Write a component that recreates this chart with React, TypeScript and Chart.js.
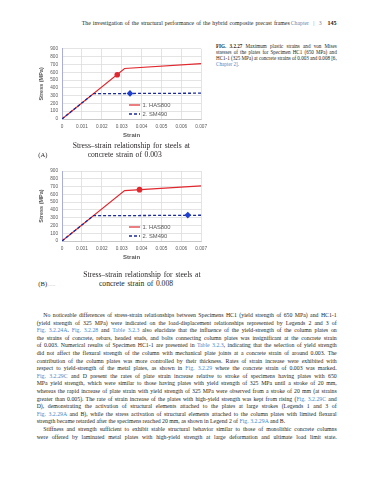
import React, { useEffect, useLayoutEffect, useRef } from "react";
import { Chart, registerables } from "chart.js";
Chart.register(...registerables);

// ---------- data ----------
const xTickLabels = ["0", "0.001", "0.002", "0.003", "0.004", "0.005", "0.006", "0.007"];
const yTickLabels = ["0", "100", "200", "300", "400", "500", "600", "700", "800", "900"];
const seriesNames = ["1. HAS800", "2. SM490"];
const has800Strain = [0, 0.00315, 0.007];
const has800Stress = [0, 648, 710];
const sm490Strain = [0, 0.00158, 0.007];
const sm490Stress = [0, 325, 331];
const markerAStrain = [0.00278, 0.00342];
const markerAStress = [568, 328];
const markerBStrain = [0.0039, 0.00633];
const markerBStress = [660, 333];

const RED = "#e0282e";
const BLUE = "#1a2a9c";
const BLUE_MARK = "#1f3fd0";
const TXT = "#595959";
const LINK = "#4a86c5";
const SERIF = "'Liberation Serif', 'Times New Roman', serif";
const SANS = "'Liberation Sans', Arial, sans-serif";

const bodyLines = [
  "No noticeable differences of stress-strain relationships between Specimens HC1 (yield strength of 650 MPa) and HC1-1",
  "(yield strength of 325 MPa) were indicated on the load-displacement relationships represented by Legends 2 and 3 of",
  "{Fig. 3.2.24A}. {Fig. 3.2.28} and {Table 3.2.3} also elucidate that the influence of the yield-strength of the column plates on",
  "the strains of concrete, rebars, headed studs, and bolts connecting column plates was insignificant at the concrete strain",
  "of 0.003. Numerical results of Specimen HC1-1 are presented in {Table 3.2.3}, indicating that the selection of yield strength",
  "did not affect the flexural strength of the column with mechanical plate joints at a concrete strain of around 0.003. The",
  "contribution of the column plates was more controlled by their thickness. Rates of strain increase were exhibited with",
  "respect to yield-strength of the metal plates, as shown in {Fig. 3.2.29} where the concrete strain of 0.003 was marked.",
  "{Fig. 3.2.29C} and D present the rates of plate strain increase relative to stroke of specimens having plates with 650",
  "MPa yield strength, which were similar to those having plates with yield strength of 325 MPa until a stroke of 20 mm,",
  "whereas the rapid increase of plate strain with yield strength of 325 MPa were observed from a stroke of 20 mm (at strains",
  "greater than 0.005). The rate of strain increase of the plates with high-yield strength was kept from rising ({Fig. 3.2.29C} and",
  "D), demonstrating the activation of structural elements attached to the plates at large strokes (Legends 1 and 3 of",
  "{Fig. 3.2.29A} and B), while the stress activation of structural elements attached to the column plates with limited flexural",
  "strength became retarded after the specimens reached 20 mm, as shown in Legend 2 of {Fig. 3.2.29A} and B.",
  "Stiffness and strength sufficient to exhibit stable structural behavior similar to those of monolithic concrete columns",
  "were offered by laminated metal plates with high-yield strength at large deformation and ultimate load limit state.",
];
const indentLines = [0, 15];
const raggedLines = [14];

const figCaption = [
  "[FIG. 3.2.27] Maximum plastic strains and von Mises",
  "stresses of the plates for Specimen HC1 (650 MPa) and",
  "HC1-1 (325 MPa) at concrete strains of 0.003 and 0.008 [6,",
  "{Chapter 2].}",
];

function renderMarkup(s: string) {
  const parts: any[] = [];
  const re = /\{([^}]*)\}|\[([^\]]*)\](?=\s)/g;
  let last = 0;
  let m: RegExpExecArray | null;
  let k = 0;
  while ((m = re.exec(s))) {
    if (m.index > last) parts.push(s.slice(last, m.index));
    if (m[1] !== undefined) parts.push(<span key={k++} style={{ color: LINK }}>{m[1]}</span>);
    else parts.push(<b key={k++}>{m[2]}</b>);
    last = m.index + m[0].length;
  }
  if (last < s.length) parts.push(s.slice(last));
  return parts;
}

function FitLine(props: {
  x: number; y: number; w?: number; size: number; font?: string; color?: string;
  bold?: boolean; children: any;
}) {
  const { x, y, w, size, font = SERIF, color = "#231f20", bold, children } = props;
  const ref = useRef<HTMLSpanElement>(null);
  useLayoutEffect(() => {
    const el = ref.current;
    if (!el || !w) return;
    el.style.wordSpacing = "0px";
    const natural = el.getBoundingClientRect().width;
    const spaces = ((el.textContent || "").match(/ /g) || []).length;
    if (spaces > 0) el.style.wordSpacing = `${(w - natural) / spaces}px`;
  }, [w]);
  return (
    <span
      ref={ref}
      style={{
        position: "absolute", left: x, top: y - size * 0.7, fontSize: size,
        lineHeight: `${size * 1.2}px`, whiteSpace: "pre", fontFamily: font, color,
        fontWeight: bold ? 700 : 400,
      }}
    >
      {children}
    </span>
  );
}

function StressChart(props: { top: number; padTop: number; mStrain: number[]; mStress: number[] }) {
  const { top, padTop, mStrain, mStress } = props;
  const ref = useRef<HTMLCanvasElement>(null);
  useEffect(() => {
    const pts = (xs: number[], ys: number[]) => xs.map((x, i) => ({ x, y: ys[i] }));
    const legendPlugin = {
      id: "insideLegend",
      afterDatasetsDraw(chart: any) {
        const { ctx, chartArea } = chart;
        const x0 = chartArea.left + 67;
        const rows = [chartArea.bottom - 14, chartArea.bottom - 5];
        ctx.save();
        rows.forEach((y: number, i: number) => {
          ctx.beginPath();
          ctx.strokeStyle = i === 0 ? RED : BLUE;
          ctx.lineWidth = i === 0 ? 1.2 : 1.3;
          ctx.setLineDash(i === 0 ? [] : [3, 2]);
          ctx.moveTo(x0, y);
          ctx.lineTo(x0 + 11, y);
          ctx.stroke();
          ctx.setLineDash([]);
          ctx.fillStyle = TXT;
          ctx.font = `5.8px ${SANS}`;
          ctx.textBaseline = "middle";
          ctx.textAlign = "left";
          ctx.fillText(seriesNames[i], x0 + 13.5, y);
        });
        ctx.restore();
      },
    };
    const tickFont = { size: 4.7, family: SANS };
    const chart = new Chart(ref.current as HTMLCanvasElement, {
      type: "scatter",
      data: {
        datasets: [
          { label: seriesNames[0], data: pts(has800Strain, has800Stress), showLine: true, borderColor: RED, backgroundColor: RED, borderWidth: 1.2, pointRadius: 0, order: 3 },
          { label: seriesNames[1], data: pts(sm490Strain, sm490Stress), showLine: true, borderColor: BLUE, backgroundColor: BLUE, borderWidth: 1.3, borderDash: [3, 2], pointRadius: 0, order: 2 },
          { label: "m1", data: [{ x: mStrain[0], y: mStress[0] }], pointStyle: "circle", pointRadius: 2.8, backgroundColor: RED, borderColor: RED, borderWidth: 0, order: 1 },
          { label: "m2", data: [{ x: mStrain[1], y: mStress[1] }], pointStyle: "rectRot", pointRadius: 3.3, backgroundColor: BLUE_MARK, borderColor: BLUE_MARK, borderWidth: 0, order: 0 },
        ],
      },
      options: {
        responsive: false,
        animation: false,
        layout: { padding: { left: 0, top: padTop, right: 10, bottom: 0 } },
        plugins: { legend: { display: false }, tooltip: { enabled: false } },
        scales: {
          x: {
            type: "linear", min: 0, max: 0.007,
            afterBuildTicks: (s: any) => { s.ticks = xTickLabels.map((t) => ({ value: parseFloat(t) })); },
            afterFit: (s: any) => { s.height = 23; },
            ticks: { font: tickFont, color: TXT, padding: 5, maxRotation: 0, autoSkip: false, callback: (_v: any, i: number) => xTickLabels[i] },
            grid: { color: "#d9d9d9", lineWidth: 0.7, drawTicks: false },
            border: { color: "#bfbfbf", width: 0.8 },
            title: { display: true, text: "Strain", color: TXT, font: { size: 6, weight: "bold", family: SANS }, padding: { top: 0, bottom: 3 } },
          },
          y: {
            type: "linear", min: 0, max: 900,
            afterBuildTicks: (s: any) => { s.ticks = yTickLabels.map((t) => ({ value: parseFloat(t) })); },
            afterFit: (s: any) => { s.width = 32; },
            ticks: { font: tickFont, color: TXT, padding: 4, autoSkip: false, callback: (_v: any, i: number) => yTickLabels[i] },
            grid: { color: "#d9d9d9", lineWidth: 0.7, drawTicks: false },
            border: { color: "#a9aed8", width: 1 },
            title: { display: true, text: "Stress (MPa)", color: TXT, font: { size: 5.5, weight: "bold", family: SANS }, padding: { top: 8, bottom: 0 } },
          },
        },
      } as any,
      plugins: [legendPlugin],
    });
    return () => chart.destroy();
  }, []);
  return (
    <canvas ref={ref} width={182} height={100}
      style={{ position: "absolute", left: 30, top, width: 182, height: 100 }} />
  );
}

export default function App() {
  const bodyTop = 316;
  const bodyStep = 7.6;
  return (
    <div style={{ position: "fixed", left: 0, top: 0, width: 375, height: 480, background: "#fff", overflow: "hidden" }}>
      {/* running header */}
      <FitLine x={81.7} y={24} w={208} size={5.8}>
        The investigation of the structural performance of the hybrid composite precast frames
      </FitLine>
      <FitLine x={290.7} y={24} w={31} size={5.8} color="#6b86a8">Chapter | 3</FitLine>
      <FitLine x={327.5} y={24} size={6} bold>145</FitLine>

      {/* figure caption */}
      {figCaption.map((l, i) => (
        <FitLine key={i} x={216} y={47 + i * 6} w={i < 3 ? 120.7 : undefined} size={5.1}>
          {renderMarkup(l)}
        </FitLine>
      ))}

      <StressChart top={42} padTop={6} mStrain={markerAStrain} mStress={markerAStress} />
      <FitLine x={72.7} y={146} w={117.3} size={7.6}>Stress–strain relationship for steels at</FitLine>
      <FitLine x={87.7} y={155.3} w={74} size={7.6}>concrete strain of 0.003</FitLine>
      <FitLine x={38.3} y={155.3} size={6.6}>(A)</FitLine>

      <StressChart top={164} padTop={7} mStrain={markerBStrain} mStress={markerBStress} />
      <FitLine x={83.3} y={275} w={117.3} size={7.6}>Stress–strain relationship for steels at</FitLine>
      <FitLine x={99} y={284.3} w={74} size={7.6}>concrete strain of 0.008</FitLine>
      <FitLine x={38.3} y={284.3} size={6.6}>(B)</FitLine>
      <FitLine x={48} y={284.8} size={6} color="#c8c8c8">.....</FitLine>

      {bodyLines.map((l, i) => {
        const indent = indentLines.includes(i);
        const x = indent ? 43.3 : 36.7;
        const w = raggedLines.includes(i) ? undefined : 336.7 - x;
        return (
          <FitLine key={i} x={x} y={bodyTop + i * bodyStep} w={w} size={5.8}>
            {renderMarkup(l)}
          </FitLine>
        );
      })}
    </div>
  );
}
